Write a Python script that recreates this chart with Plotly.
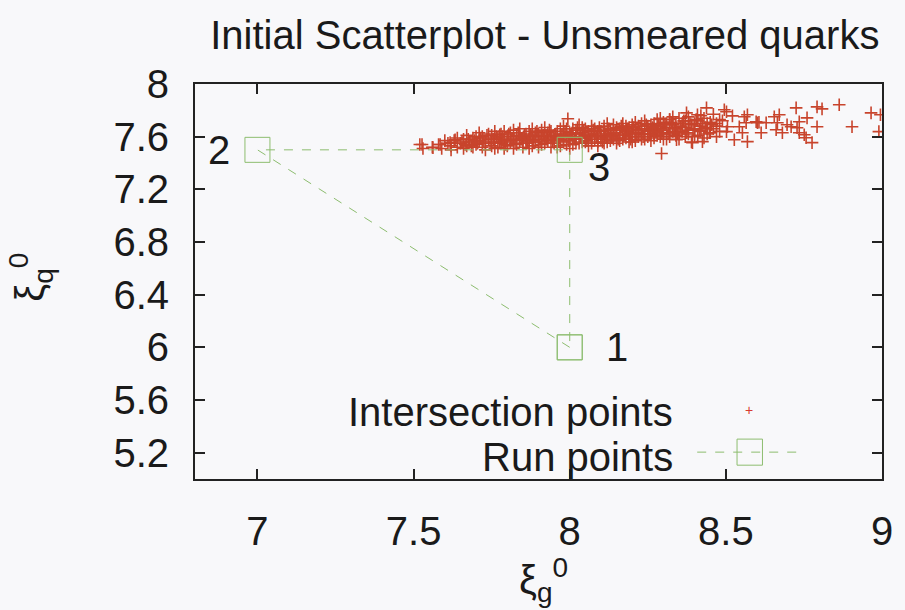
import plotly.graph_objects as go

# Intersection points (xi_g^0, xi_q^0), grouped by region of the cloud
tail_pts = [
    (7.52, 7.54), (7.527, 7.54), (7.53, 7.51), (7.56, 7.52), (7.562, 7.517), (7.58, 7.54),
    (7.585, 7.54), (7.59, 7.51), (7.60, 7.57), (7.61, 7.55), (7.617, 7.555), (7.62, 7.53),
    (7.62, 7.50), (7.63, 7.57), (7.633, 7.577), (7.64, 7.52), (7.64, 7.59), (7.65, 7.55),
    (7.66, 7.58), (7.66, 7.51), (7.67, 7.53), (7.67, 7.61), (7.68, 7.56), (7.69, 7.59),
    (7.69, 7.52), (7.70, 7.54), (7.70, 7.60), (7.71, 7.57), (7.71, 7.63), (7.72, 7.52),
    (7.72, 7.60), (7.73, 7.55), (7.73, 7.50), (7.74, 7.58), (7.74, 7.62), (7.75, 7.53),
    (7.75, 7.61), (7.76, 7.56), (7.76, 7.64), (7.76, 7.51), (7.77, 7.59), (7.77, 7.52),
    (7.776, 7.615),
]
core_pts = [
    (7.78, 7.62), (7.78, 7.55), (7.78, 7.58), (7.79, 7.57), (7.79, 7.64), (7.79, 7.51),
    (7.80, 7.60), (7.80, 7.53), (7.80, 7.57), (7.81, 7.56), (7.81, 7.63), (7.82, 7.58),
    (7.82, 7.65), (7.82, 7.51), (7.83, 7.54), (7.83, 7.61), (7.84, 7.57), (7.84, 7.60),
    (7.84, 7.66), (7.85, 7.59), (7.85, 7.52), (7.85, 7.55), (7.86, 7.62), (7.86, 7.55),
    (7.86, 7.58), (7.87, 7.58), (7.87, 7.64), (7.87, 7.51), (7.88, 7.53), (7.88, 7.60),
    (7.88, 7.66), (7.89, 7.56), (7.89, 7.60), (7.89, 7.63), (7.90, 7.62), (7.90, 7.58),
    (7.90, 7.52), (7.91, 7.54), (7.91, 7.65), (7.91, 7.58), (7.92, 7.60), (7.92, 7.67),
    (7.92, 7.55), (7.93, 7.57), (7.93, 7.63), (7.93, 7.60), (7.94, 7.52), (7.94, 7.59),
    (7.94, 7.64), (7.95, 7.61), (7.95, 7.55), (7.95, 7.58), (7.96, 7.64), (7.96, 7.52),
    (7.96, 7.60), (7.97, 7.58), (7.97, 7.53), (7.97, 7.66), (7.98, 7.62), (7.98, 7.56),
    (7.98, 7.59), (7.98, 7.68), (7.99, 7.60), (7.99, 7.66), (7.99, 7.54), (7.994, 7.736),
    (8.00, 7.57), (8.00, 7.63), (8.00, 7.51), (8.00, 7.60), (8.01, 7.54), (8.01, 7.60),
    (8.01, 7.66), (8.02, 7.65), (8.02, 7.58), (8.02, 7.55), (8.02, 7.62), (8.03, 7.62),
    (8.03, 7.55), (8.03, 7.69), (8.04, 7.59), (8.04, 7.67), (8.04, 7.56), (8.04, 7.63),
    (8.05, 7.61), (8.05, 7.56), (8.05, 7.59), (8.05, 7.66), (8.06, 7.64), (8.06, 7.53),
    (8.06, 7.61), (8.07, 7.60), (8.07, 7.58), (8.07, 7.55), (8.07, 7.68), (8.08, 7.66),
    (8.08, 7.62), (8.08, 7.58), (8.09, 7.56), (8.09, 7.60), (8.09, 7.64), (8.09, 7.53),
    (8.10, 7.64), (8.10, 7.58), (8.10, 7.61), (8.11, 7.68), (8.11, 7.55), (8.11, 7.59),
    (8.11, 7.65), (8.12, 7.62), (8.12, 7.60), (8.12, 7.56), (8.12, 7.70), (8.13, 7.65),
    (8.13, 7.57), (8.13, 7.62), (8.14, 7.61), (8.14, 7.69), (8.14, 7.58), (8.14, 7.65),
    (8.15, 7.59), (8.15, 7.63), (8.15, 7.55), (8.15, 7.67), (8.16, 7.66), (8.16, 7.57),
    (8.16, 7.61), (8.17, 7.61), (8.17, 7.70), (8.17, 7.58), (8.17, 7.65), (8.18, 7.64),
    (8.18, 7.59), (8.18, 7.68), (8.19, 7.62), (8.19, 7.67), (8.19, 7.56), (8.19, 7.60),
    (8.20, 7.56), (8.20, 7.65), (8.20, 7.63), (8.20, 7.69), (8.21, 7.60), (8.21, 7.71),
    (8.21, 7.57), (8.21, 7.65), (8.22, 7.63), (8.22, 7.68), (8.22, 7.60), (8.23, 7.58),
    (8.23, 7.66), (8.23, 7.70), (8.23, 7.62), (8.24, 7.62), (8.24, 7.72), (8.24, 7.58),
    (8.24, 7.66), (8.25, 7.64), (8.25, 7.60), (8.25, 7.68), (8.26, 7.69), (8.26, 7.57),
    (8.26, 7.62), (8.26, 7.65), (8.27, 7.66), (8.27, 7.62), (8.27, 7.59), (8.27, 7.70),
    (8.28, 7.73), (8.28, 7.64), (8.28, 7.61), (8.29, 7.60), (8.29, 7.68), (8.29, 7.66),
    (8.29, 7.74), (8.30, 7.65), (8.30, 7.71), (8.30, 7.58), (8.30, 7.62), (8.31, 7.58),
    (8.31, 7.67), (8.31, 7.70), (8.32, 7.73), (8.32, 7.63), (8.32, 7.60), (8.32, 7.67),
    (8.33, 7.69), (8.33, 7.64), (8.33, 7.75), (8.34, 7.61), (8.34, 7.66), (8.34, 7.70),
    (8.35, 7.74), (8.35, 7.58), (8.35, 7.62), (8.36, 7.70), (8.36, 7.64), (8.36, 7.67),
    (8.37, 7.67), (8.37, 7.72), (8.37, 7.60), (8.38, 7.62), (8.38, 7.75), (8.38, 7.65),
    (8.39, 7.69), (8.39, 7.56), (8.40, 7.65), (8.40, 7.70), (8.40, 7.60), (8.41, 7.72),
    (8.41, 7.61), (8.42, 7.68), (8.42, 7.64), (8.42, 7.76), (8.43, 7.59), (8.43, 7.74),
    (8.44, 7.66), (8.44, 7.70), (8.44, 7.62), (8.45, 7.71), (8.45, 7.63), (8.46, 7.77),
    (8.46, 7.66), (8.47, 7.68), (8.47, 7.60), (8.48, 7.73), (8.48, 7.64),
]
core_mid_pts = [
    (7.655, 7.56), (7.665, 7.54), (7.675, 7.58), (7.685, 7.53), (7.695, 7.57), (7.705, 7.55),
    (7.715, 7.59), (7.725, 7.56), (7.735, 7.61), (7.745, 7.55), (7.755, 7.58), (7.765, 7.60),
    (7.775, 7.56), (7.785, 7.60), (7.795, 7.54), (7.805, 7.62), (7.815, 7.58), (7.825, 7.55),
    (7.835, 7.63), (7.845, 7.58), (7.855, 7.61), (7.865, 7.56), (7.875, 7.61), (7.885, 7.57),
    (7.895, 7.64), (7.905, 7.56), (7.915, 7.61), (7.925, 7.58), (7.935, 7.65), (7.945, 7.56),
    (7.955, 7.62), (7.965, 7.57), (7.975, 7.61), (7.985, 7.64), (7.995, 7.57), (8.005, 7.62),
    (8.015, 7.58), (8.025, 7.67), (8.035, 7.60), (8.045, 7.65), (8.055, 7.57), (8.065, 7.62),
    (8.075, 7.65), (8.085, 7.60), (8.095, 7.67), (8.105, 7.56), (8.115, 7.62), (8.125, 7.66),
    (8.135, 7.60), (8.145, 7.63), (8.155, 7.58), (8.165, 7.68), (8.175, 7.62), (8.185, 7.66),
    (8.195, 7.58), (8.205, 7.67), (8.215, 7.62), (8.225, 7.65), (8.235, 7.60), (8.245, 7.69),
    (8.255, 7.62), (8.265, 7.67), (8.275, 7.64), (8.285, 7.68), (8.295, 7.63), (8.305, 7.69),
    (8.315, 7.62), (8.325, 7.71), (8.335, 7.66), (8.345, 7.63), (8.355, 7.68), (8.365, 7.72),
    (8.375, 7.63), (8.385, 7.70), (8.395, 7.66), (8.405, 7.73), (8.415, 7.65), (8.425, 7.70),
    (8.435, 7.67), (8.455, 7.69),
]
halo_pts = [
    (8.294, 7.472), (8.320, 7.730), (8.342, 7.577), (8.374, 7.781), (8.393, 7.555),
    (8.409, 7.766), (8.425, 7.562), (8.438, 7.819), (8.447, 7.630), (8.470, 7.700),
    (8.489, 7.721), (8.495, 7.804), (8.502, 7.638), (8.502, 7.789), (8.505, 7.675),
    (8.521, 7.758), (8.527, 7.577), (8.543, 7.675), (8.553, 7.630), (8.559, 7.751),
    (8.565, 7.706), (8.569, 7.766), (8.569, 7.562), (8.597, 7.713), (8.601, 7.706),
    (8.606, 7.710), (8.613, 7.630), (8.629, 7.706), (8.655, 7.751), (8.661, 7.653),
    (8.665, 7.706), (8.671, 7.766), (8.681, 7.630), (8.696, 7.691), (8.709, 7.675),
    (8.725, 7.819), (8.728, 7.668), (8.735, 7.713), (8.735, 7.630), (8.751, 7.615),
    (8.757, 7.592), (8.760, 7.743), (8.776, 7.555), (8.792, 7.826), (8.792, 7.675),
    (8.808, 7.811), (8.863, 7.842), (8.904, 7.675), (8.965, 7.781), (8.990, 7.638),
    (8.995, 7.766),
]
inter_pts = tail_pts + core_pts + core_mid_pts + halo_pts
inter_x = [p[0] for p in inter_pts]
inter_y = [p[1] for p in inter_pts]

# Run points, visited in order 1 -> 2 -> 3 -> back to 1
run_labels = ["1", "2", "3"]
run_x = [8.0, 7.0, 8.0]
run_y = [6.0, 7.5, 7.5]

x_ticks = [7, 7.5, 8, 8.5, 9]
y_ticks = [5.2, 5.6, 6.0, 6.4, 6.8, 7.2, 7.6, 8.0]
X_RANGE = [6.8, 9.0]
Y_RANGE = [5.0, 8.0]

RED = "#c8442c"
GREEN = "#8dbd6f"
FONT = "Liberation Sans, Arial, sans-serif"
INK = "#1a1a1a"
AXIS = "#222"
FS = 40

fig = go.Figure()

fig.add_trace(go.Scatter(
    x=inter_x, y=inter_y, mode="markers", name="Intersection points",
    marker=dict(symbol="cross-thin", size=9, line=dict(color=RED, width=1.6), color=RED),
    showlegend=False,
))

# Run path lives on the overlay axes (same ranges), which carry the inward ticks
fig.add_trace(go.Scatter(
    x=run_x + run_x[:1], y=run_y + run_y[:1], mode="lines+markers", name="Run points",
    xaxis="x2", yaxis="y2",
    line=dict(color=GREEN, width=1, dash="dash"),
    marker=dict(symbol="square-open", size=25, color=GREEN, line=dict(width=1)),
    showlegend=False,
))

# Number labels next to the run points: (xshift, yshift, xanchor)
label_offsets = {"1": (34, 0, "left"), "2": (-25, 0, "right"), "3": (16, -17, "left")}
annotations = []
for lab, xv, yv in zip(run_labels, run_x, run_y):
    dx, dy, anchor = label_offsets[lab]
    annotations.append(dict(
        x=xv, y=yv, xref="x", yref="y", text=lab, showarrow=False,
        xanchor=anchor, yanchor="middle", xshift=dx, yshift=dy,
        font=dict(family=FONT, size=FS, color=INK),
    ))

# Legend: text on the left, sample on the right
legend_rows = [("Intersection points", 0.170), ("Run points", 0.056)]
for text, ypos in legend_rows:
    annotations.append(dict(
        x=0.699, y=ypos, xref="paper", yref="paper", text=text, showarrow=False,
        xanchor="right", yanchor="middle", font=dict(family=FONT, size=FS, color=INK),
    ))
annotations.append(dict(
    x=0.807, y=0.175, xref="paper", yref="paper", text="+", showarrow=False,
    xanchor="center", yanchor="middle", font=dict(family=FONT, size=14, color="#d83a30"),
))

# Axis titles
annotations.append(dict(
    x=0.507, y=-0.255, xref="paper", yref="paper",
    text="ξ<sub>g</sub><sup>0</sup>", showarrow=False, xanchor="center", yanchor="middle",
    font=dict(family=FONT, size=FS, color=INK),
))
annotations.append(dict(
    x=-0.24, y=0.51, xref="paper", yref="paper",
    text="ξ<sub>q</sub><sup>0</sup>", showarrow=False, textangle=-90,
    xanchor="center", yanchor="middle", font=dict(family=FONT, size=FS, color=INK),
))

LEG_Y = 0.068
shapes = [
    dict(type="line", xref="paper", yref="paper", x0=0.731, x1=0.882, y0=LEG_Y, y1=LEG_Y,
         line=dict(color=GREEN, width=1, dash="dash")),
    dict(type="rect", xref="paper", yref="paper", x0=0.789, x1=0.826, y0=LEG_Y - 0.033,
         y1=LEG_Y + 0.033, line=dict(color=GREEN, width=1)),
]

# Primary axes carry the frame and the labels; invisible outside ticks push the
# labels away from the frame.
label_axis = dict(
    ticks="outside", tickcolor="rgba(0,0,0,0)",
    showline=True, linecolor=AXIS, linewidth=2, mirror=True,
    showgrid=False, zeroline=False,
    tickfont=dict(family=FONT, size=FS, color=INK),
)
# Overlay axes draw the inward-pointing ticks on all four sides.
tick_axis = dict(
    ticks="inside", ticklen=10, tickwidth=1.5, tickcolor=AXIS,
    showline=False, mirror="ticks", showticklabels=False,
    showgrid=False, zeroline=False,
)

fig.update_layout(
    width=905, height=610,
    margin=dict(l=195, r=18, t=84, b=131),
    paper_bgcolor="#f8f8fa", plot_bgcolor="#f8f8fa",
    title=dict(text="Initial Scatterplot - Unsmeared quarks", x=0.602, xanchor="center",
               y=0.942, yanchor="middle", font=dict(family=FONT, size=FS, color=INK)),
    annotations=annotations, shapes=shapes,
    xaxis=dict(range=X_RANGE, tickvals=x_ticks, ticktext=[f"{v:g}" for v in x_ticks],
               ticklen=16, **label_axis),
    yaxis=dict(range=Y_RANGE, tickvals=y_ticks, ticktext=[f"{v:g}" for v in y_ticks],
               ticklen=16, **label_axis),
    xaxis2=dict(range=X_RANGE, tickvals=x_ticks, overlaying="x", side="bottom",
                anchor="y2", **tick_axis),
    yaxis2=dict(range=Y_RANGE, tickvals=y_ticks, overlaying="y", side="left",
                anchor="x2", **tick_axis),
)

fig.write_html("out.html")
